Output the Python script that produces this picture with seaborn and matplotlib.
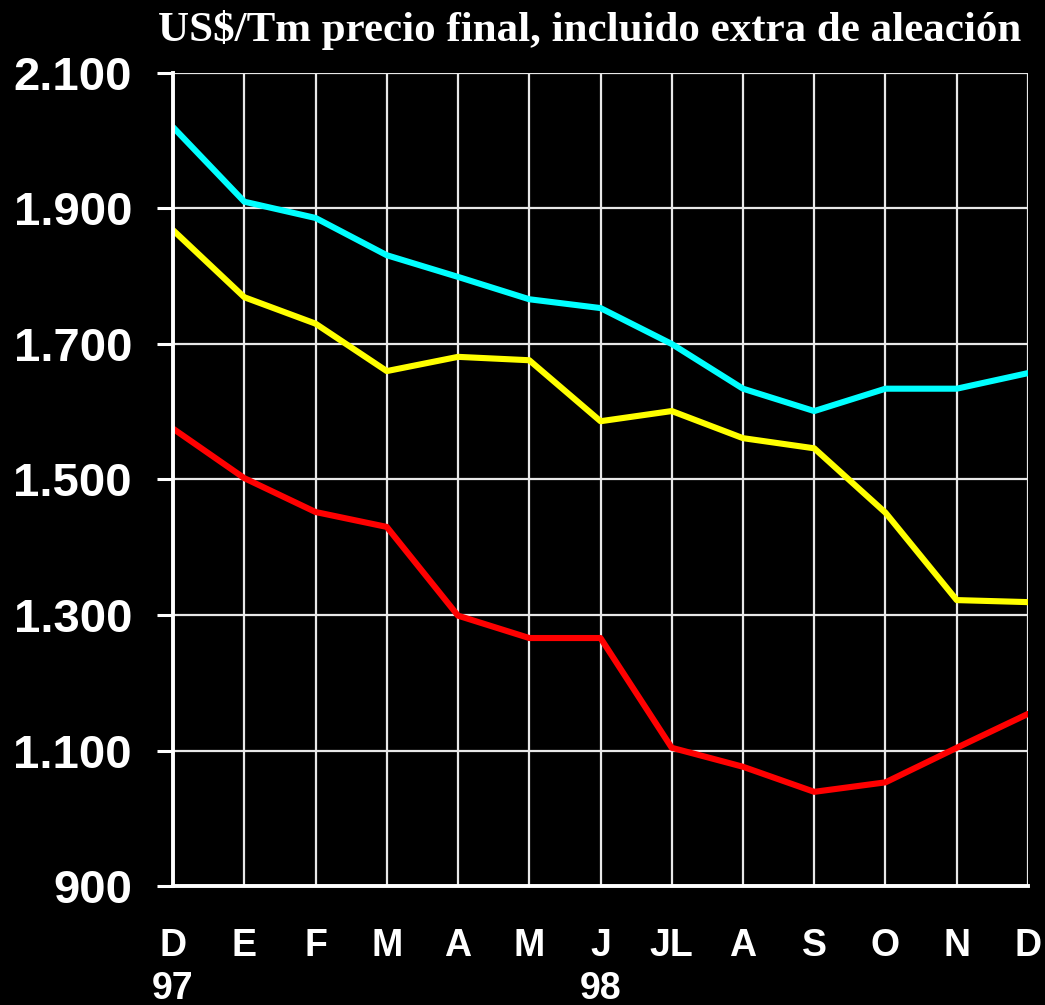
import numpy as np
import pandas as pd
import matplotlib
matplotlib.use("Agg")
import matplotlib.pyplot as plt
import seaborn as sns

# Data
months = ["D", "E", "F", "M", "A", "M", "J", "JL", "A", "S", "O", "N", "D"]
years = ["97", "", "", "", "", "", "98", "", "", "", "", "", ""]
serie_cian = [2020, 1910, 1886, 1831, 1799, 1766, 1753, 1700, 1634, 1601, 1634, 1634, 1657]
serie_amarilla = [1868, 1769, 1730, 1660, 1681, 1676, 1586, 1601, 1561, 1546, 1451, 1322, 1319]
serie_roja = [1575, 1502, 1452, 1430, 1299, 1266, 1266, 1104, 1076, 1039, 1053, 1104, 1154]
y_ticks = [900, 1100, 1300, 1500, 1700, 1900, 2100]
title = "US$/Tm precio final, incluido extra de aleación"

sns.set_theme(style="dark")
plt.rcParams["font.family"] = ["Liberation Sans", "DejaVu Sans"]

idx = np.arange(len(months))
df = pd.DataFrame({
    "x": np.concatenate([idx, idx, idx]),
    "valor": serie_cian + serie_amarilla + serie_roja,
    "serie": ["cian"] * len(idx) + ["amarilla"] * len(idx) + ["roja"] * len(idx),
})
palette = {"cian": "#00FFFF", "amarilla": "#FFFF00", "roja": "#FF0000"}

fig = plt.figure(figsize=(10.45, 10.05), dpi=100, facecolor="black")
ax = fig.add_axes([0.1656, 0.1184, 0.9837 - 0.1656, 0.9274 - 0.1184])
ax.set_facecolor("black")

sns.lineplot(data=df, x="x", y="valor", hue="serie", palette=palette,
             linewidth=4.4, legend=False, ax=ax, sort=False, zorder=3)

ax.set_xlim(0, len(months) - 1)
ax.set_ylim(900, 2100)
ax.set_xticks(idx)
ax.set_xticklabels([m + ("\n" + y if y else "\n ") for m, y in zip(months, years)],
                   fontsize=27, fontweight="bold", color="white", linespacing=1.25)
ax.set_xticks(idx[::2], minor=True)
ax.set_yticks(y_ticks)
ax.set_yticklabels([f"{v:,}".replace(",", ".") for v in y_ticks],
                   fontsize=34, fontweight="bold", color="white")

ax.tick_params(axis="x", which="major", length=0, pad=30)
ax.tick_params(axis="x", which="minor", length=9, width=2.2, color="white", bottom=True)
ax.tick_params(axis="y", which="major", length=11.5, width=2.2, color="white", left=True, pad=18)

ax.grid(True, which="major", color="#e8e8e8", linewidth=1.6)
ax.set_axisbelow(True)
for s in ["top", "right"]:
    ax.spines[s].set_visible(False)
for s in ["left", "bottom"]:
    ax.spines[s].set_visible(True)
    ax.spines[s].set_color("white")
    ax.spines[s].set_linewidth(2.8)
    ax.spines[s].set_zorder(4)

ax.set_xlabel("")
ax.set_ylabel("")
fig.text(0.5646, 0.97, title, ha="center", va="center", color="white",
         fontsize=31, fontweight="bold", family=["Liberation Serif", "DejaVu Serif"])

fig.savefig("out.png", dpi=100, facecolor="black")
